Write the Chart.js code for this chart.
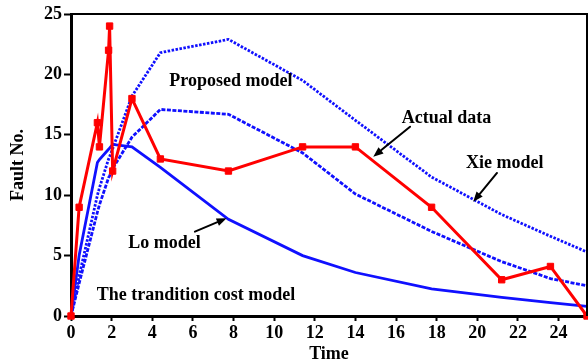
<!DOCTYPE html>
<html>
<head>
<meta charset="utf-8">
<script src="https://cdn.jsdelivr.net/npm/chart.js@4/dist/chart.umd.min.js"></script>
<style>
  html, body { margin: 0; padding: 0; background: #fff; }
  #wrap { width: 588px; height: 364px; }
</style>
</head>
<body>
<div id="wrap"><canvas id="c" width="588" height="364"></canvas></div>
<script>
// Observation times shared by the measured series and the fitted models
const times = [0, 0.4, 1.3, 1.4, 1.85, 1.9, 2.05, 3, 4.4, 7.75, 11.4, 14, 17.75, 21.2, 23.6, 25.4];

// Fault counts: measured data and three model curves
const actualData    = [0, 9, 16, 14, 22, 24, 12, 18, 13, 12, 14, 14, 9, 3, 4.1, 0];
const xieModel      = [0, 3.3, 10.0, 10.6, 13.0, 13.2, 13.85, 18.2, 21.8, 22.9, 19.5, 16.2, 11.5, 8.4, 6.6, 5.3];
const proposedModel = [0, 2.7, 8.6, 9.2, 11.45, 11.6, 12.2, 14.8, 17.1, 16.7, 13.5, 10.1, 7.0, 4.5, 3.1, 2.5];
const loModel       = [0, 5.0, 12.7, 12.95, 13.8, 13.9, 14.2, 14.0, 12.3, 8.0, 5.0, 3.6, 2.25, 1.55, 1.1, 0.8];

// Axis ticks
const xTickValues = [0, 2, 4, 6, 8, 10, 12, 14, 16, 18, 20, 22, 24];
const yTickValues = [0, 5, 10, 15, 20, 25];

// Curve labels (left edge, baseline) in data units
const noteText = ['Proposed model', 'Actual data', 'Xie model', 'Lo model', 'The trandition cost model'];
const noteX    = [4.84, 16.28, 19.44, 2.82, 1.27];
const noteY    = [19.07, 15.95, 12.23, 5.60, 1.32];

// Pointer arrows (tail -> head) in data units
const arrowFromX = [16.69, 20.97, 6.10];
const arrowFromY = [15.67, 11.84, 6.98];
const arrowToX   = [14.88, 19.80, 7.66];
const arrowToY   = [13.19, 9.46, 8.09];

const FONT = '"Liberation Serif", "Times New Roman", serif';

const pts = (ys) => times.map((t, i) => ({ x: t, y: ys[i] }));

const annotate = {
  id: 'annotate',
  afterDatasetsDraw(chart) {
    const { ctx, chartArea: a, scales: { x, y } } = chart;
    ctx.save();
    // top and right frame lines
    ctx.strokeStyle = '#000';
    ctx.lineWidth = 2;
    ctx.beginPath();
    ctx.moveTo(a.left, a.top);
    ctx.lineTo(a.right, a.top);
    ctx.lineTo(a.right, a.bottom);
    ctx.stroke();

    // labels
    ctx.font = 'bold 18px ' + FONT;
    ctx.fillStyle = '#000';
    ctx.textAlign = 'left';
    ctx.textBaseline = 'alphabetic';
    noteText.forEach((t, i) => {
      ctx.fillText(t, x.getPixelForValue(noteX[i]), y.getPixelForValue(noteY[i]));
    });

    // arrows
    ctx.lineWidth = 2;
    ctx.lineCap = 'round';
    arrowFromX.forEach((_, i) => {
      const x0 = x.getPixelForValue(arrowFromX[i]), y0 = y.getPixelForValue(arrowFromY[i]);
      const x1 = x.getPixelForValue(arrowToX[i]),   y1 = y.getPixelForValue(arrowToY[i]);
      const ang = Math.atan2(y1 - y0, x1 - x0);
      const len = 10, half = 4;
      const bx = x1 - len * Math.cos(ang), by = y1 - len * Math.sin(ang);
      ctx.beginPath();
      ctx.moveTo(x0, y0);
      ctx.lineTo(bx, by);
      ctx.stroke();
      ctx.beginPath();
      ctx.moveTo(x1, y1);
      ctx.lineTo(bx + half * Math.sin(ang), by - half * Math.cos(ang));
      ctx.lineTo(bx - half * Math.sin(ang), by + half * Math.cos(ang));
      ctx.closePath();
      ctx.fill();
    });
    ctx.restore();
  }
};

const tickFont = { family: FONT, size: 18, weight: 'bold' };

new Chart(document.getElementById('c'), {
  type: 'line',
  data: {
    datasets: [
      {
        label: 'Actual data',
        data: pts(actualData),
        borderColor: '#ff0000',
        backgroundColor: '#ff0000',
        borderWidth: 3,
        pointStyle: 'rect',
        pointRadius: 4.5,
        pointBorderWidth: 1,
        clip: 6
      },
      {
        label: 'Lo model',
        data: pts(loModel),
        borderColor: '#1010ff',
        borderWidth: 2.8,
        pointRadius: 0,
        clip: 4
      },
      {
        label: 'Proposed model',
        data: pts(proposedModel),
        borderColor: '#1010ff',
        borderWidth: 2.8,
        borderDash: [4, 1.5],
        pointRadius: 0,
        clip: 4
      },
      {
        label: 'Xie model',
        data: pts(xieModel),
        borderColor: '#1010ff',
        borderWidth: 2.8,
        borderDash: [2.5, 1.5],
        pointRadius: 0,
        clip: 4
      }
    ]
  },
  options: {
    responsive: false,
    animation: false,
    events: [],
    layout: { autoPadding: false, padding: { top: 14, right: 1, left: 0, bottom: 0 } },
    plugins: { legend: { display: false }, tooltip: { enabled: false } },
    elements: { line: { tension: 0 } },
    scales: {
      x: {
        type: 'linear',
        min: 0,
        max: 25.4,
        afterBuildTicks: (s) => { s.ticks = xTickValues.map(v => ({ value: v })); },
        afterFit: (s) => { s.height = 48; },
        grid: { drawOnChartArea: false, drawTicks: true, tickLength: 5, tickWidth: 2, tickColor: '#000' },
        border: { display: true, color: '#000', width: 3 },
        ticks: { color: '#000', font: tickFont, padding: 2, maxRotation: 0, autoSkip: false },
        title: { display: true, text: 'Time', color: '#000', font: { family: FONT, size: 18, weight: 'bold', lineHeight: 1 }, padding: { top: 0, bottom: 1 } }
      },
      y: {
        type: 'linear',
        min: 0,
        max: 25,
        afterBuildTicks: (s) => { s.ticks = yTickValues.map(v => ({ value: v })); },
        afterFit: (s) => { s.width = 71; },
        grid: { drawOnChartArea: false, drawTicks: true, tickLength: 7, tickWidth: 2, tickColor: '#000' },
        border: { display: true, color: '#000', width: 3 },
        ticks: { color: '#000', font: tickFont, padding: 2 },
        title: { display: true, text: 'Fault No.', color: '#000', font: { family: FONT, size: 18, weight: 'bold', lineHeight: 1 }, padding: { top: 9, bottom: 0 } }
      }
    }
  },
  plugins: [annotate]
});
</script>
</body>
</html>
